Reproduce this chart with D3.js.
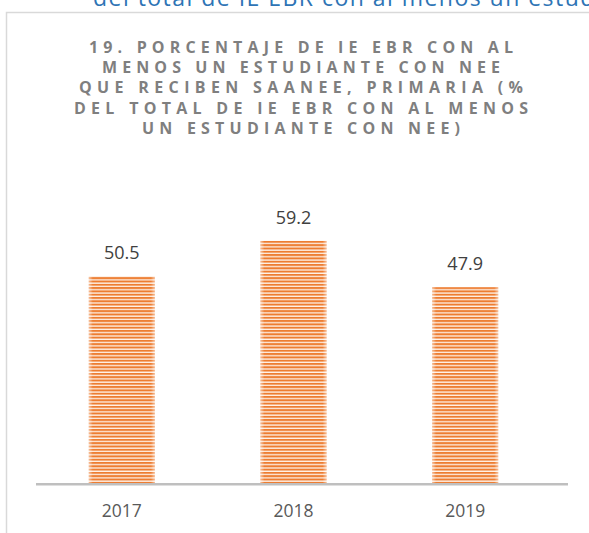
<!DOCTYPE html>
<html>
<head>
<meta charset="utf-8">
<script src="https://cdn.jsdelivr.net/npm/d3@7"></script>
<style>
  html, body { margin: 0; padding: 0; background: #fff; }
  svg { display: block; }
</style>
</head>
<body>
<svg id="chart" width="589" height="533"></svg>
<script>
// ---- data ----
const categories = ["2017", "2018", "2019"];
const values = [50.5, 59.2, 47.9];
const valueLabels = ["50.5", "59.2", "47.9"];
const titleLines = [
  "19. PORCENTAJE DE IE EBR CON AL",
  "MENOS UN ESTUDIANTE CON NEE",
  "QUE RECIBEN SAANEE, PRIMARIA (%",
  "DEL TOTAL DE IE EBR CON AL MENOS",
  "UN ESTUDIANTE CON NEE)"
];
const titleWidths = [424, 398, 444, 454, 318];
const headerText = "del total de IE EBR con al menos un estudiante con NEE";

const svg = d3.select("#chart");
const W = 589, H = 533;

// defs: stripe pattern
const defs = svg.append("defs");
const pat = defs.append("pattern")
  .attr("id", "stripes")
  .attr("patternUnits", "userSpaceOnUse")
  .attr("width", 8).attr("height", 3.3);
pat.append("rect").attr("width", 8).attr("height", 3.3).attr("fill", "#FFF3EA");
pat.append("rect").attr("y", 0).attr("width", 8).attr("height", 2.0).attr("fill", "#ED7D31");

const edge = defs.append("linearGradient").attr("id", "edgefade")
  .attr("x1", "0").attr("x2", "1").attr("y1", "0").attr("y2", "0");
edge.append("stop").attr("offset", "0").attr("stop-color", "#fff").attr("stop-opacity", 0.5);
edge.append("stop").attr("offset", "0.06").attr("stop-color", "#fff").attr("stop-opacity", 0);
edge.append("stop").attr("offset", "0.94").attr("stop-color", "#fff").attr("stop-opacity", 0);
edge.append("stop").attr("offset", "1").attr("stop-color", "#fff").attr("stop-opacity", 0.5);

svg.append("rect").attr("width", W).attr("height", H).attr("fill", "#fff");

// header text (cut off at top, as in the reference)
svg.append("text")
  .attr("x", 93).attr("y", 6)
  .attr("font-family", "'Open Sans', sans-serif")
  .attr("font-size", 23)
  .attr("fill", "#2E74B5")
  .attr("textLength", 668)
  .attr("lengthAdjust", "spacing")
  .text(headerText);

// chart border
svg.append("path")
  .attr("d", `M6.5,${H} L6.5,12.5 L${W},12.5`)
  .attr("fill", "none")
  .attr("stroke", "#D9D9D9")
  .attr("stroke-width", 1.5);

// title
const title = svg.append("g");
titleLines.forEach((t, i) => {
  title.append("text")
    .attr("x", 301)
    .attr("y", 52.5 + i * 20.4)
    .attr("text-anchor", "middle")
    .attr("font-family", "'Open Sans', sans-serif")
    .attr("font-weight", "bold")
    .attr("font-size", 16)
    .attr("fill", "#7F7F7F")
    .attr("textLength", titleWidths[i])
    .attr("lengthAdjust", "spacing")
    .text(t);
});

// scales
const x = d3.scaleBand()
  .domain(categories)
  .range([36, 551])
  .paddingInner(0.615)
  .paddingOuter(0.3075);

const y = d3.scaleLinear()
  .domain([0, 60])
  .range([484.3, 237.4]);

// bars
const bars = svg.append("g");
bars.selectAll("rect.bar")
  .data(values)
  .join("rect")
  .attr("class", "bar")
  .attr("x", (d, i) => x(categories[i]))
  .attr("y", d => y(d))
  .attr("width", x.bandwidth())
  .attr("height", d => y(0) - y(d))
  .attr("fill", "url(#stripes)");
bars.selectAll("rect.fade")
  .data(values)
  .join("rect")
  .attr("class", "fade")
  .attr("x", (d, i) => x(categories[i]))
  .attr("y", d => y(d))
  .attr("width", x.bandwidth())
  .attr("height", d => y(0) - y(d))
  .attr("fill", "url(#edgefade)");

// value labels
svg.append("g").selectAll("text")
  .data(values)
  .join("text")
  .attr("x", (d, i) => x(categories[i]) + x.bandwidth() / 2)
  .attr("y", d => y(d) - 17)
  .attr("text-anchor", "middle")
  .attr("font-family", "'Open Sans', sans-serif")
  .attr("font-size", 18)
  .attr("fill", "#404040")
  .text((d, i) => valueLabels[i]);

// x axis
const xAxis = d3.axisBottom(x).tickSize(0).tickPadding(0);
const gx = svg.append("g")
  .attr("transform", `translate(0,${y(0)})`)
  .call(xAxis);
gx.select(".domain").remove();
gx.selectAll(".tick text")
  .attr("dy", null)
  .attr("y", 33)
  .attr("font-family", "'Open Sans', sans-serif")
  .attr("font-size", 17.5)
  .attr("fill", "#595959");

svg.append("line")
  .attr("x1", 36).attr("x2", 568)
  .attr("y1", y(0)).attr("y2", y(0))
  .attr("stroke", "#BFBFBF")
  .attr("stroke-width", 2.5);
</script>
</body>
</html>
